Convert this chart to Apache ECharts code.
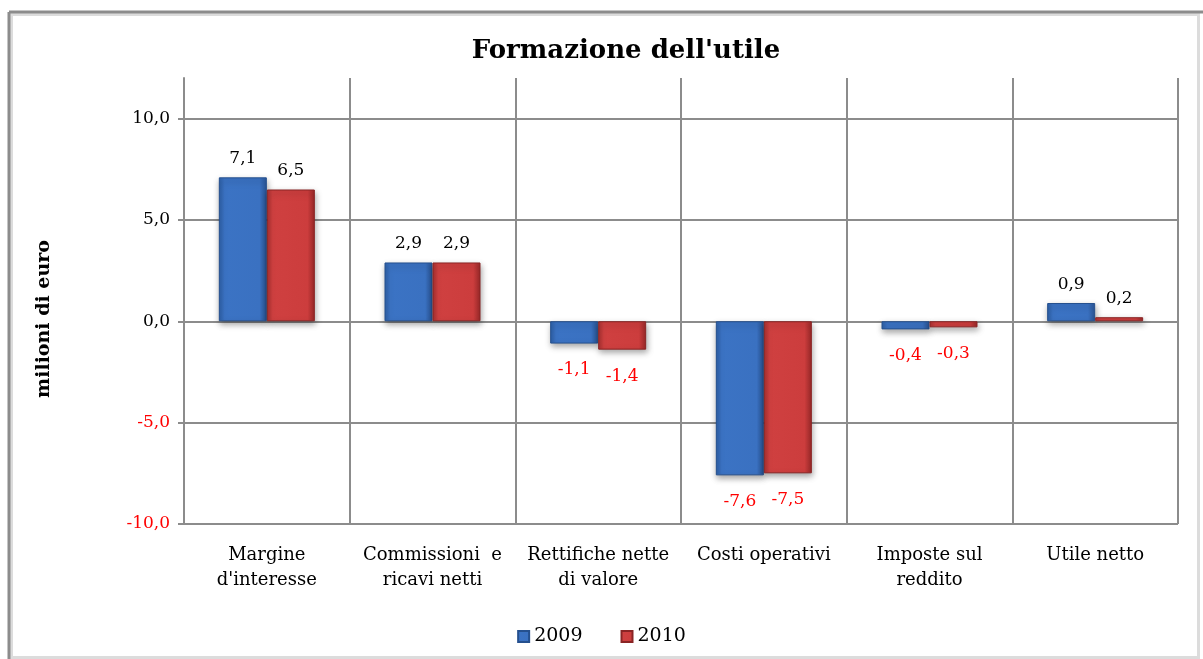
<!DOCTYPE html>
<html>
<head>
<meta charset="utf-8">
<script src="https://cdn.jsdelivr.net/npm/echarts@6/dist/echarts.min.js"></script>
<style>html,body{margin:0;padding:0;background:#fff;}#c{width:1203px;height:659px;}</style>
</head>
<body>
<div id="c"></div>
<script>
const categories = ["Margine\nd'interesse", "Commissioni  e\nricavi netti", "Rettifiche nette\ndi valore", "Costi operativi", "Imposte sul\nreddito", "Utile netto"];
const seriesNames = ["2009", "2010"];
const values2009 = [7.1, 2.9, -1.1, -7.6, -0.4, 0.9];
const values2010 = [6.5, 2.9, -1.4, -7.5, -0.3, 0.2];
const yTicks = [-10, -5, 0, 5, 10];
const yAxisTitle = 'milioni di euro';

const FONT = "DejaVu Serif";
const fmt = v => v.toFixed(1).replace('.', ',');
const G = echarts.graphic.LinearGradient;

const blueFill = new G(0, 0, 1, 0, [
  {offset: 0, color: '#2d5fa6'}, {offset: 0.12, color: '#3b73c4'},
  {offset: 0.85, color: '#3a71c1'}, {offset: 1, color: '#2a5596'}]);
const redFill = new G(0, 0, 1, 0, [
  {offset: 0, color: '#a83030'}, {offset: 0.12, color: '#cf4040'},
  {offset: 0.85, color: '#cc3d3d'}, {offset: 1, color: '#992828'}]);

function mk(vals) {
  return vals.map(v => ({
    value: v,
    label: {position: v < 0 ? 'bottom' : 'top', distance: v < 0 ? 18 : 10,
            color: v < 0 ? '#ff0000' : '#000000'}
  }));
}

const chart = echarts.init(document.getElementById('c'), null, {renderer: 'canvas'});
chart.setOption({
  animation: false,
  backgroundColor: '#ffffff',
  title: {
    text: "Formazione dell'utile",
    left: 621, top: 33, textAlign: 'center',
    textStyle: {fontFamily: FONT, fontWeight: 'bold', fontSize: 26, color: '#000'}
  },
  legend: {
    data: seriesNames,
    left: 'center', top: 622,
    itemWidth: 11, itemHeight: 11, itemGap: 38,
    icon: 'rect',
    textStyle: {fontFamily: FONT, fontSize: 19, color: '#000'}
  },
  graphic: [
    {type: 'rect', left: 9, top: 12, shape: {width: 1187, height: 643},
     style: {fill: 'none', stroke: '#dcdcdc', lineWidth: 3}, silent: true, z: -1},
    {type: 'line', shape: {x1: 9, y1: 12, x2: 1203, y2: 12},
     style: {stroke: '#8c8c8c', lineWidth: 3}, silent: true},
    {type: 'line', shape: {x1: 9, y1: 12, x2: 9, y2: 659},
     style: {stroke: '#8c8c8c', lineWidth: 3}, silent: true},
    {type: 'text', x: 44, y: 319, rotation: Math.PI / 2, silent: true,
     style: {text: yAxisTitle, fontFamily: FONT, fontWeight: 'bold', fontSize: 19,
             fill: '#000', align: 'center', verticalAlign: 'middle'}}
  ],
  grid: {left: 184, right: 25, top: 78, bottom: 135, containLabel: false},
  xAxis: {
    type: 'category',
    data: categories,
    axisLine: {show: true, onZero: true, lineStyle: {color: '#8c8c8c', width: 2}},
    axisTick: {show: false},
    splitLine: {show: true, lineStyle: {color: '#8c8c8c', width: 2}},
    axisLabel: {
      show: true, fontFamily: FONT, fontSize: 18, color: '#000', lineHeight: 25,
      interval: 0, margin: 19
    },
    position: 'bottom'
  },
  yAxis: {
    type: 'value',
    min: -10, max: 12, interval: 5,
    axisLine: {show: true, lineStyle: {color: '#8c8c8c', width: 2}},
    axisTick: {show: true, length: 6, customValues: yTicks, lineStyle: {color: '#8c8c8c', width: 2}},
    axisLabel: {
      customValues: yTicks,
      fontFamily: FONT, fontSize: 17, margin: 14,
      formatter: v => fmt(v),
      color: v => (v < 0 ? '#ff0000' : '#000000')
    },
    splitLine: {show: true, lineStyle: {
      color: ['#8c8c8c', '#8c8c8c', '#8c8c8c', '#8c8c8c', '#8c8c8c', 'rgba(0,0,0,0)'], width: 2}}
  },
  series: [
    {
      name: seriesNames[0], type: 'bar', data: mk(values2009),
      barWidth: 48, barGap: '0%',
      itemStyle: {color: blueFill, borderColor: '#25508e', borderWidth: 1,
        shadowColor: 'rgba(0,0,0,0.35)', shadowBlur: 6, shadowOffsetY: 3, shadowOffsetX: 1},
      label: {show: true, fontFamily: FONT, fontSize: 17, formatter: p => fmt(p.value)}
    },
    {
      name: seriesNames[1], type: 'bar', data: mk(values2010),
      barWidth: 48, barGap: '0%',
      itemStyle: {color: redFill, borderColor: '#8a2424', borderWidth: 1,
        shadowColor: 'rgba(0,0,0,0.35)', shadowBlur: 6, shadowOffsetY: 3, shadowOffsetX: 1},
      label: {show: true, fontFamily: FONT, fontSize: 17, formatter: p => fmt(p.value)}
    }
  ]
});
</script>
</body>
</html>
